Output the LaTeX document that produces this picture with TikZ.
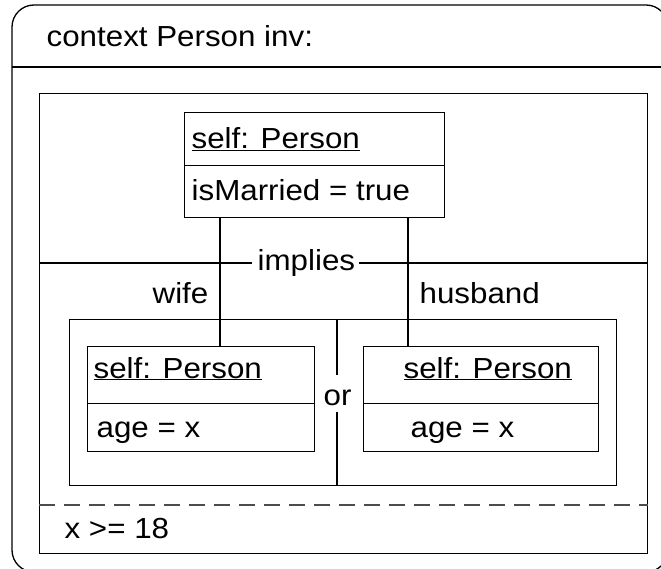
\documentclass[tikz,border=0pt]{standalone}
\usepackage{fontspec}
\setmainfont{Liberation Sans}[FakeStretch=1.08]
\usetikzlibrary{calc}
\begin{document}
\begin{tikzpicture}[x=1pt,y=-1pt,line width=1.3pt,
  every node/.style={font=\fontsize{29}{34}\selectfont},
  lbl/.style={anchor=base west,inner sep=0pt},
  box/.style={draw,anchor=north west,inner sep=0pt},
  dashline/.style={draw=black!70,line width=1.4pt,dash pattern=on 16pt off 9pt}]
\useasboundingbox (0,0) rectangle (661,569);
% outer constraint frame with its header
\begin{scope}
  \clip (0,0) rectangle (661,569);
  \draw[rounded corners=22pt] (12,5) rectangle (668,572);
  \draw (12,67) -- (661,67);
\end{scope}
\node[lbl] (ctx) at (46,47) {context Person inv:};

% inner frame
\node[box,minimum width=608,minimum height=460] (frame) at (39,93) {};

% top object
\node[box,minimum width=260,minimum height=53] (topname) at (184,112) {};
\node[box,minimum width=260,minimum height=52] (topattr) at (184,165) {};
\node[lbl] (tn) at (191,149) {\underline{self: Person}};
\node[lbl] (ta) at (191,201) {isMarried = true};

% implies separator
\node[lbl] (impl) at (257,271) {implies};
\coordinate (impL) at (252,263);
\coordinate (impR) at (359,263);
\draw (frame.west |- impL) -- (impL);
\draw (impR) -- (frame.east |- impR);

% alternatives
\node[box,minimum width=547,minimum height=166] (alt) at (69,319) {};
\node[box,minimum width=227,minimum height=57] (wname) at (87,346) {};
\node[box,minimum width=227,minimum height=48] (wattr) at (87,403) {};
\node[box,minimum width=235,minimum height=57] (hname) at (363,346) {};
\node[box,minimum width=235,minimum height=48] (hattr) at (363,403) {};
\node[lbl] (wn) at (93,378) {\underline{self: Person}};
\node[lbl] (wa) at (96,437) {age = x};
\node[lbl] (hn) at (403,378) {\underline{self: Person}};
\node[lbl] (ha) at (410,437) {age = x};

% or divider
\node[lbl] (orlbl) at (323,405) {or};
\coordinate (orTop) at (337,375);
\coordinate (orBot) at (337,412);
\draw (alt.north -| orTop) -- (orTop);
\draw (orBot) -- (alt.south -| orBot);

% role links
\node[lbl] (wife) at (152,304) {wife};
\node[lbl] (husb) at (419,304) {husband};
\coordinate (wifeX) at (220,0);
\coordinate (husbX) at (408,0);
\draw (topattr.south -| wifeX) -- (wname.north -| wifeX);
\draw (topattr.south -| husbX) -- (hname.north -| husbX);

% condition
\coordinate (dashY) at (0,505);
\draw[dashline] (frame.west |- dashY) -- (frame.east |- dashY);
\node[lbl] (cond) at (64,538) {x >= 18};
\end{tikzpicture}
\end{document}
